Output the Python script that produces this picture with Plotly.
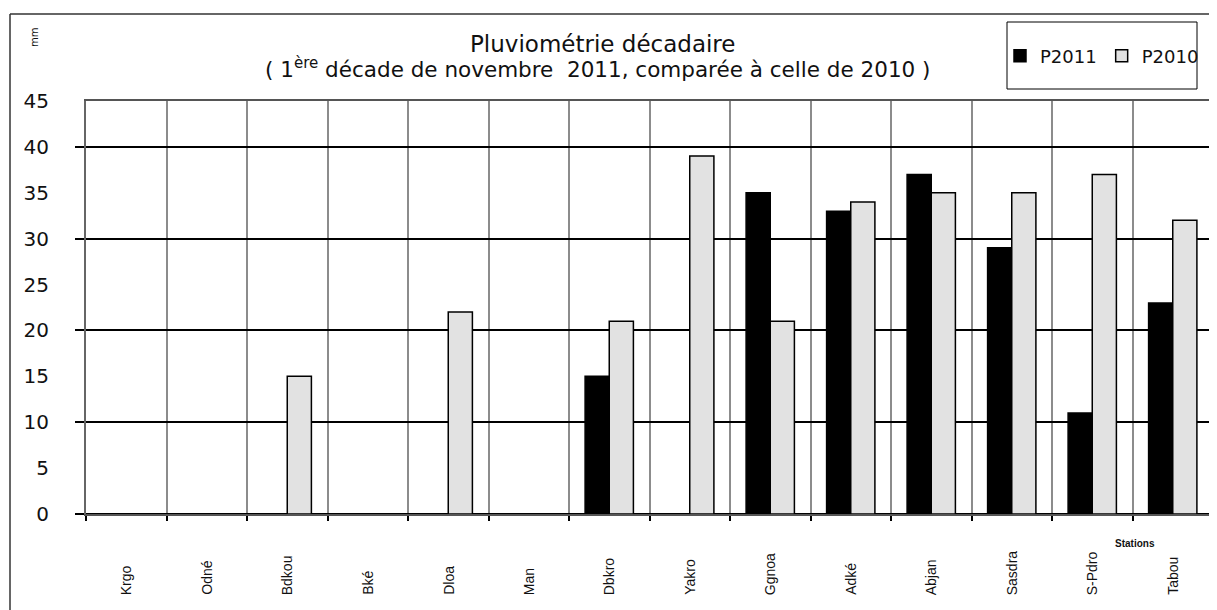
import plotly.graph_objects as go

stations = ["Krgo", "Odné", "Bdkou", "Bké", "Dloa", "Man", "Dbkro",
            "Yakro", "Ggnoa", "Adké", "Abjan", "Sasdra", "S-Pdro", "Tabou"]
p2011 = [0, 0, 0, 0, 0, 0, 15, 0, 35, 33, 37, 29, 11, 23]
p2010 = [0, 0, 15, 0, 22, 0, 21, 39, 21, 34, 35, 35, 37, 32]
y_labels = [0, 5, 10, 15, 20, 25, 30, 35, 40, 45]
y_grid = [0, 10, 20, 30, 40]

OFF = 8  # page body margin
W, H = 1217 - OFF, 610 - OFF
# plot area in screen pixels
SL, SR, ST, SB = 86, 1213, 101, 514
L, R, T, B = SL - OFF, SR - OFF, ST - OFF, SB - OFF


def px_x(p):
    return (p - SL) / (SR - SL)


def px_y(p):
    return (SB - p) / (SB - ST)


FONT = "DejaVu Sans, Liberation Sans, Arial, sans-serif"

fig = go.Figure()
fig.add_trace(go.Bar(name="P2011", x=stations, y=p2011,
                     marker=dict(color="#000000", line=dict(color="#000000", width=1.5))))
fig.add_trace(go.Bar(name="P2010", x=stations, y=p2010,
                     marker=dict(color="#e2e2e2", line=dict(color="#000000", width=1.5))))
# empty helper trace so that the label axis (y2) is drawn
fig.add_trace(go.Scatter(x=[], y=[], yaxis="y2", showlegend=False, hoverinfo="skip"))

annotations = [
    dict(text="Pluviométrie décadaire", x=px_x(602), y=px_y(44), xref="paper", yref="paper",
         xanchor="center", yanchor="middle",
         showarrow=False, font=dict(family=FONT, size=23, color="#111")),
    dict(text="( 1<sup>ère</sup> décade de novembre  2011, comparée à celle de 2010 )",
         x=px_x(598), y=px_y(68), xref="paper", yref="paper",
         xanchor="center", yanchor="middle",
         showarrow=False, font=dict(family=FONT, size=21.5, color="#111")),
    dict(text="mm", x=px_x(35), y=px_y(38), xref="paper", yref="paper", textangle=-90,
         xanchor="center", yanchor="middle",
         showarrow=False, font=dict(family=FONT, size=10, color="#111")),
    dict(text="<b>Stations</b>", x=px_x(1135), y=px_y(543), xref="paper", yref="paper",
         xanchor="center", yanchor="middle",
         showarrow=False, font=dict(family="Liberation Sans Narrow, Liberation Sans, Arial", size=10, color="#111")),
]
for s in stations:
    annotations.append(dict(text=s, x=s, xref="x", y=0, yref="paper", yanchor="bottom",
                            xanchor="center",
                            yshift=-(597 - SB), textangle=-90, showarrow=False,
                            font=dict(family="Liberation Sans, Arial", size=14, color="#111")))

shapes = [
    dict(type="line", xref="paper", yref="paper", x0=px_x(10), x1=px_x(10), y0=px_y(14), y1=px_y(615),
         line=dict(color="#333", width=1.5)),
    dict(type="line", xref="paper", yref="paper", x0=px_x(10), x1=px_x(1225), y0=px_y(14), y1=px_y(14),
         line=dict(color="#333", width=1.5)),
    dict(type="rect", xref="paper", yref="paper", x0=px_x(1007), x1=px_x(1197), y0=px_y(22), y1=px_y(89),
         line=dict(color="#000", width=1)),
]

fig.update_layout(
    width=W, height=H,
    margin=dict(l=L, r=W - R, t=T, b=H - B, pad=0, autoexpand=False),
    paper_bgcolor="white", plot_bgcolor="white",
    barmode="group", bargap=0.4, bargroupgap=0,
    showlegend=True,
    legend=dict(orientation="h", x=px_x(1000), y=px_y(56), xanchor="left", yanchor="middle",
                bgcolor="rgba(0,0,0,0)", borderwidth=0, itemwidth=30,
                font=dict(family=FONT, size=18, color="#111")),
    xaxis=dict(type="category", tickson="boundaries", showgrid=True, gridcolor="#8c8c8c", gridwidth=1.5,
               ticks="outside", ticklen=5, tickwidth=1.5, tickcolor="#000",
               showticklabels=False, showline=True, linecolor="#555", linewidth=1.5, mirror=True,
               fixedrange=True),
    yaxis=dict(range=[0, 45], tickmode="array", tickvals=y_grid, showgrid=True, gridcolor="#000",
               gridwidth=1.5, ticks="outside", ticklen=9, tickwidth=1.5, tickcolor="#000",
               showticklabels=False, showline=True, linecolor="#666", linewidth=2, mirror=True,
               zeroline=True, zerolinecolor="#000", zerolinewidth=2),
    yaxis2=dict(range=[0, 45], overlaying="y", side="left", tickmode="array", tickvals=y_labels,
                showgrid=False, zeroline=False, ticks="", showline=False,
                ticklabelstandoff=36,
                tickfont=dict(family=FONT, size=20, color="#111")),
    annotations=annotations,
    shapes=shapes,
)

fig.write_html("out.html")
